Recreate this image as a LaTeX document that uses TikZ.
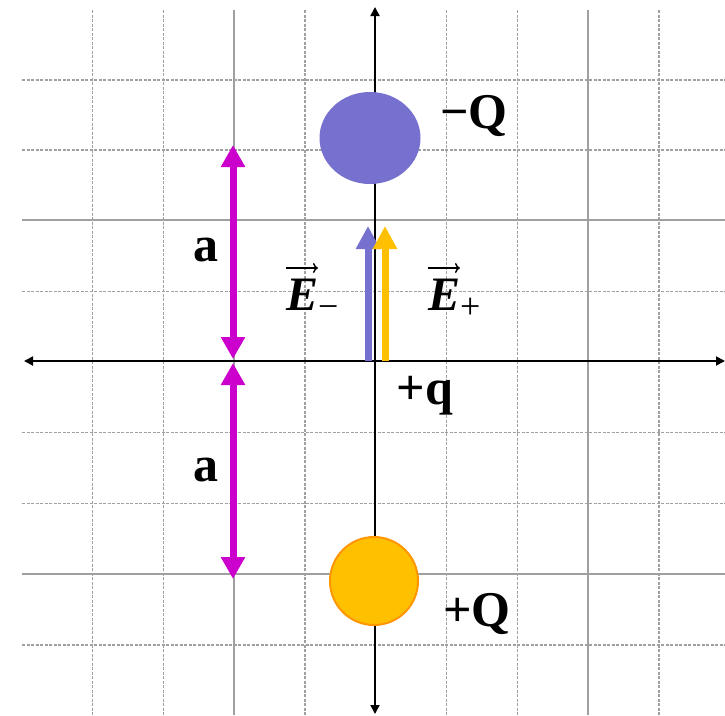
\documentclass[tikz,border=0pt]{standalone}
\usepackage{fontspec}
\setmainfont{Liberation Serif}
\usetikzlibrary{arrows.meta,shapes.geometric}
\definecolor{qblue}{RGB}{118,112,207}
\definecolor{qgold}{RGB}{255,192,0}
\definecolor{qorange}{RGB}{255,150,0}
\definecolor{qmag}{RGB}{204,0,204}
\definecolor{gridgray}{RGB}{160,160,160}
\newcommand{\subsign}[1]{{\fontsize{36}{36}\selectfont\mdseries\upshape\raisebox{-8pt}{#1}}}
\tikzset{
  minorline/.style={gridgray, line width=1.5pt, dash pattern=on 3pt off 1.5pt},
  majorline/.style={gridgray, line width=1.5pt},
  axisline/.style={black, line width=1.8pt, {Triangle[width=9pt,length=9pt]}-{Triangle[width=9pt,length=9pt]}},
  dimarrow/.style={qmag, line width=7pt, {Triangle[width=23pt,length=22pt]}-{Triangle[width=23pt,length=22pt]}},
  fieldarrow/.style={line width=7pt, -{Triangle[width=23pt,length=23pt]}},
  biglabel/.style={font=\fontsize{50}{55}\selectfont\bfseries, inner sep=0pt},
  elabel/.style={font=\fontsize{48}{52}\selectfont\bfseries\itshape, inner sep=0pt, anchor=base west},
  vecarrow/.style={black, line width=1.5pt, -{To[length=5pt,width=10pt]}}
}
\begin{document}
\begin{tikzpicture}[x=1pt,y=-1pt]
\useasboundingbox (0,0) rectangle (725,715);
% grid
\foreach \gx in {92.5,163.3,305,446.5,517.3,659}
  \draw[minorline] (\gx,10) -- (\gx,715);
\foreach \gx in {234,588}
  \draw[majorline] (\gx,10) -- (\gx,715);
\foreach \gy in {80,150,291.5,432.5,503.3,645}
  \draw[minorline] (22,\gy) -- (725,\gy);
\foreach \gy in {220,574}
  \draw[majorline] (22,\gy) -- (725,\gy);
% axes
\coordinate (xl) at (24,361);
\coordinate (xr) at (725,361);
\coordinate (yt) at (375,7);
\coordinate (yb) at (375,714);
\draw[axisline] (xl) -- (xr);
\draw[axisline] (yt) -- (yb);
% charges
\node[ellipse, fill=qblue, inner sep=0pt, minimum width=101pt, minimum height=92pt] (negQ) at (370,138) {};
\node[circle, fill=qgold, draw=qorange, line width=2pt, inner sep=0pt, minimum size=88pt] (posQ) at (374,581) {};
% dimension arrows
\coordinate (d1) at (233,145);
\coordinate (d2) at (233,359);
\coordinate (d3) at (233,363);
\coordinate (d4) at (233,579);
\draw[dimarrow] (d1) -- (d2);
\draw[dimarrow] (d3) -- (d4);
% field arrows
\coordinate (eb0) at (368,361);
\coordinate (eb1) at (368,226);
\coordinate (ey0) at (385,361);
\coordinate (ey1) at (385,226);
\draw[fieldarrow, qblue] (eb0) -- (eb1);
\draw[fieldarrow, qgold] (ey0) -- (ey1);
% labels
\node[biglabel] (la1) at (206,250) {a};
\node[biglabel] (la2) at (206,470) {a};
\node[biglabel] (lnq) at (474,116) {−Q};
\node[biglabel] (lpq) at (477,614) {+Q};
\node[biglabel] (lq) at (425,396) {+q};
\node[elabel] (em) at (286,310) {E\subsign{−}};
\node[elabel] (ep) at (428,310) {E\subsign{+}};
\draw[vecarrow] ([shift={(0,-42)}]em.base west) -- ([shift={(32,-42)}]em.base west);
\draw[vecarrow] ([shift={(0,-42)}]ep.base west) -- ([shift={(32,-42)}]ep.base west);
\end{tikzpicture}
\end{document}
